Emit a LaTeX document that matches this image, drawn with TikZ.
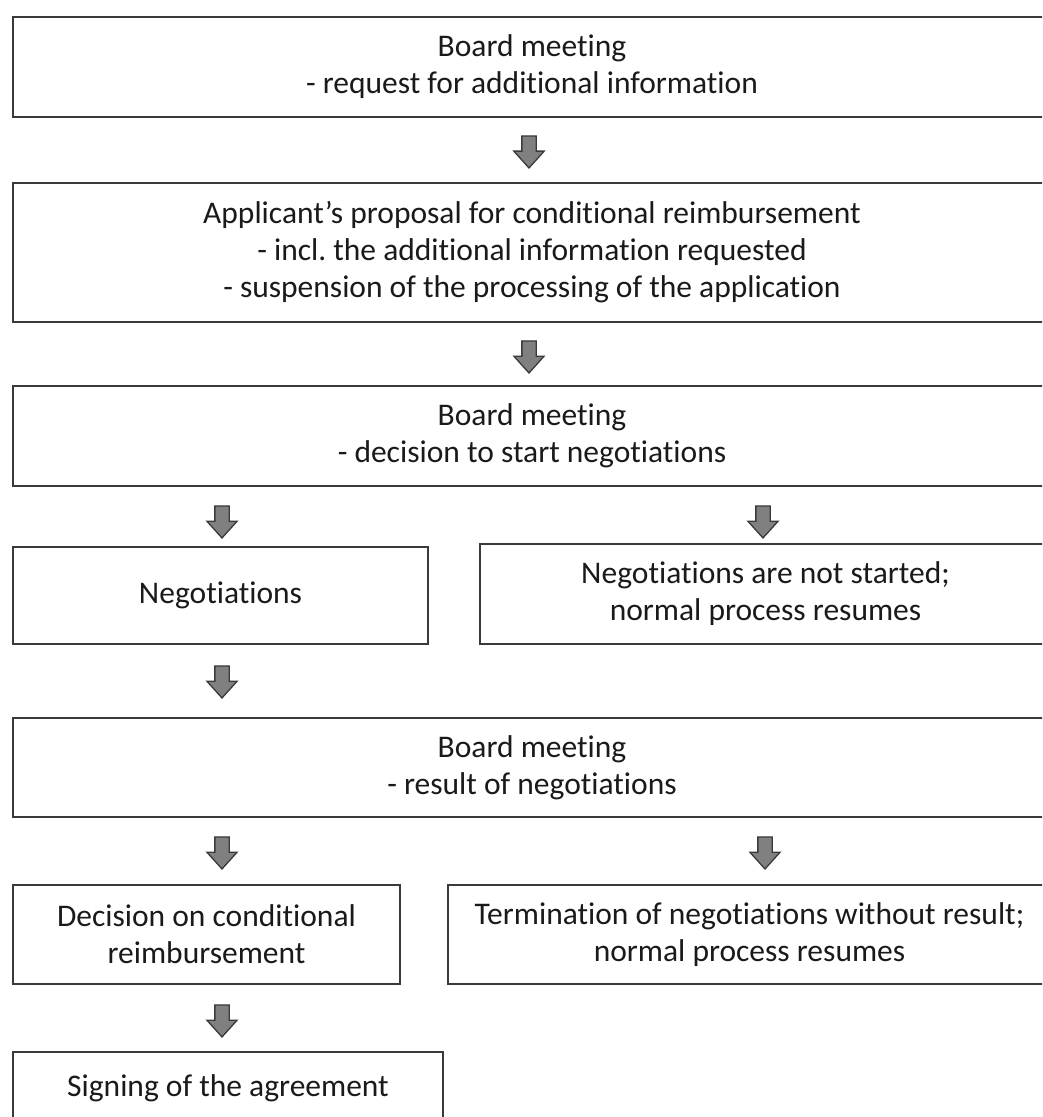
\documentclass[tikz,border=0pt]{standalone}
\usepackage{fontspec}
\setmainfont{Carlito}[Ligatures=NoCommon,RawFeature={-liga}]
\usetikzlibrary{shapes.arrows}
\frenchspacing
\definecolor{boxline}{HTML}{3A3A3A}
\definecolor{arrfill}{HTML}{808080}
\definecolor{arrline}{HTML}{3A3A3A}
\definecolor{txt}{HTML}{1A1A1A}
\begin{document}
\begin{tikzpicture}[x=1pt,y=-1pt,
  box/.style={draw=boxline, line width=2pt, align=center, anchor=north west,
    font=\fontsize{31.5}{37}\selectfont, text=txt, inner sep=0pt},
  darr/.style={single arrow, draw=arrline, fill=arrfill, line width=1.3pt,
    shape border rotate=270, minimum height=32pt, minimum width=29pt,
    single arrow head extend=8pt, single arrow tip angle=84, inner sep=6.5pt}]
\useasboundingbox (0,0) rectangle (1042,1117);
\clip (0,0) rectangle (1042,1117);
\fill[white] (0,0) rectangle (1042,1117);

\node[box, minimum width=1038pt, minimum height=100pt] (b1) at (12,16)
  {Board meeting\\- request for additional information};
\node[box, minimum width=1038pt, minimum height=139pt] (b2) at (12,182)
  {Applicant’s proposal for conditional reimbursement\\- incl.\ the additional information requested\\- suspension of the processing of the application};
\node[box, minimum width=1038pt, minimum height=100pt] (b3) at (12,385)
  {Board meeting\\- decision to start negotiations};
\node[box, minimum width=415pt, minimum height=97pt] (b4a) at (12,546)
  {Negotiations};
\node[box, minimum width=571pt, minimum height=100pt] (b4b) at (479,543)
  {Negotiations are not started;\\normal process resumes};
\node[box, minimum width=1038pt, minimum height=99pt] (b5) at (12,717)
  {Board meeting\\- result of negotiations};
\node[box, minimum width=387pt, minimum height=99pt] (b6a) at (12,884)
  {Decision on conditional\\reimbursement};
\node[box, minimum width=603pt, minimum height=99pt] (b6b) at (447,884)
  {Termination of negotiations without result;\\normal process resumes};
\node[box, minimum width=430pt, minimum height=72pt] (b7) at (12,1051)
  {Signing of the agreement};

\node[darr] (a1) at (529,148) {};
\node[darr] (a2) at (529,353) {};
\node[darr] (a3l) at (222,518) {};
\node[darr] (a3r) at (763,518) {};
\node[darr] (a4) at (222,678) {};
\node[darr] (a5l) at (222,849) {};
\node[darr] (a5r) at (765,849) {};
\node[darr] (a6) at (222,1017) {};
\end{tikzpicture}
\end{document}
